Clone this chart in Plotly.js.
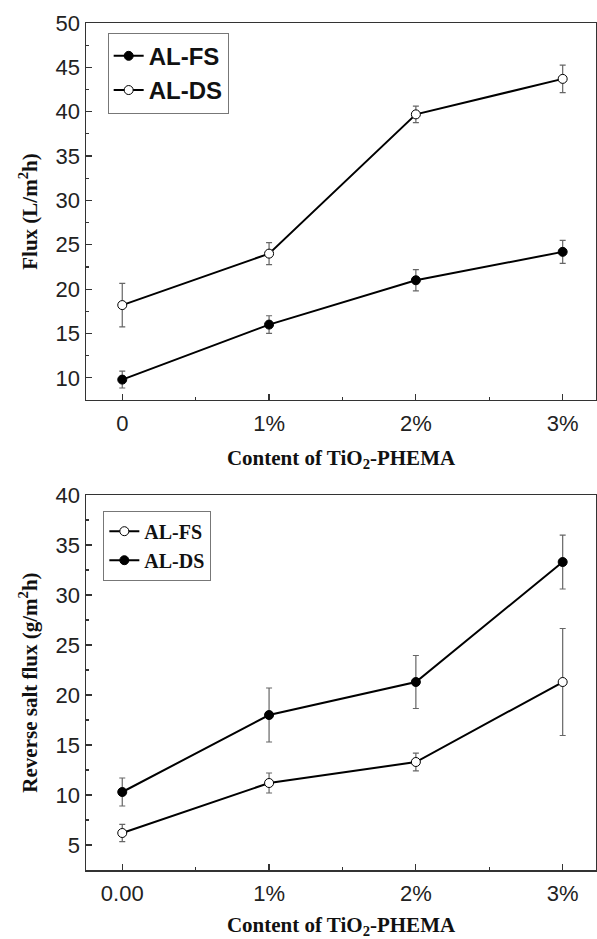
<!DOCTYPE html>
<html>
<head>
<meta charset="utf-8">
<script src="https://cdn.plot.ly/plotly-3.0.1.min.js"></script>
<style>html,body{margin:0;padding:0;background:#fff;}#chart{width:597px;height:939px;}</style>
</head>
<body>
<div id="chart"></div>
<script>
// Categories (TiO2-PHEMA content)
const categoriesTop = ['0', '1%', '2%', '3%'];
const categoriesBottom = ['0.00', '1%', '2%', '3%'];

// Top panel: water flux (L/m2h)
const fluxFS = [9.8, 16.0, 21.0, 24.2];
const fluxFSerr = [0.95, 1.0, 1.2, 1.3];
const fluxDS = [18.2, 24.0, 39.7, 43.7];
const fluxDSerr = [2.45, 1.25, 0.92, 1.55];

// Bottom panel: reverse salt flux (g/m2h)
const saltFS = [6.2, 11.2, 13.3, 21.3];
const saltFSerr = [0.87, 1.0, 0.88, 5.35];
const saltDS = [10.3, 18.0, 21.3, 33.3];
const saltDSerr = [1.4, 2.7, 2.65, 2.7];

const xTop = categoriesTop.map((c, i) => i);
const xBot = categoriesBottom.map((c, i) => i);

const serif = 'Liberation Serif, Times New Roman, serif';
const sans = 'Liberation Sans, Arial, sans-serif';

function trace(x, y, err, name, filled, xa, ya, leg) {
  return {
    x: x, y: y, name: name, type: 'scatter', mode: 'lines+markers',
    xaxis: xa, yaxis: ya, legend: leg,
    line: {color: '#000', width: 2},
    marker: {symbol: 'circle', size: 9, color: filled ? '#000' : '#fff',
             line: {color: '#000', width: 1}},
    error_y: {type: 'data', array: err, visible: true, color: '#666', thickness: 1.2, width: 3}
  };
}

const data = [
  trace(xTop, fluxFS, fluxFSerr, 'AL-FS', true, 'x', 'y', 'legend'),
  trace(xTop, fluxDS, fluxDSerr, 'AL-DS', false, 'x', 'y', 'legend'),
  trace(xBot, saltFS, saltFSerr, 'AL-FS', false, 'x2', 'y2', 'legend2'),
  trace(xBot, saltDS, saltDSerr, 'AL-DS', true, 'x2', 'y2', 'legend2')
];

const titleFont = {family: serif, size: 21, color: '#111', weight: 'bold'};

const axisCommon = {
  showgrid: false, zeroline: false, showline: true, linecolor: '#333', linewidth: 1.5,
  mirror: true, ticks: 'inside', ticklen: 6, tickwidth: 1.2, tickcolor: '#333',
  tickfont: {family: sans, size: 22, color: '#222'}
};

const layout = {
  width: 597, height: 939,
  margin: {l: 86, r: 1, t: 23, b: 69},
  paper_bgcolor: '#fff', plot_bgcolor: '#fff',
  showlegend: true,
  xaxis: Object.assign({}, axisCommon, {
    domain: [0, 1], anchor: 'y', range: [-0.247, 3.227],
    tickmode: 'array', tickvals: xTop, ticktext: categoriesTop, ticklabelstandoff: 3,
    minor: {dtick: 0.5, tick0: 0, ticks: 'inside', ticklen: 3, tickcolor: '#333'},
    title: {text: 'Content of TiO<sub>2</sub>-PHEMA', font: titleFont, standoff: 15}
  }),
  yaxis: Object.assign({}, axisCommon, {
    domain: [0.5549, 1], anchor: 'x', range: [7.5, 50],
    tick0: 10, dtick: 5,
    minor: {dtick: 2.5, tick0: 7.5, ticks: 'inside', ticklen: 3, tickcolor: '#333'},
    title: {text: 'Flux (L/m<sup>2</sup>h)', font: titleFont, standoff: 12}
  }),
  xaxis2: Object.assign({}, axisCommon, {
    domain: [0, 1], anchor: 'y2', range: [-0.247, 3.227],
    tickmode: 'array', tickvals: xBot, ticktext: categoriesBottom, ticklabelstandoff: 3,
    minor: {dtick: 0.5, tick0: 0, ticks: 'inside', ticklen: 3, tickcolor: '#333'},
    title: {text: 'Content of TiO<sub>2</sub>-PHEMA', font: titleFont, standoff: 15}
  }),
  yaxis2: Object.assign({}, axisCommon, {
    domain: [0, 0.4427], anchor: 'x2', range: [2.5, 40],
    tick0: 5, dtick: 5,
    minor: {dtick: 2.5, tick0: 2.5, ticks: 'inside', ticklen: 3, tickcolor: '#333'},
    title: {text: 'Reverse salt flux (g/m<sup>2</sup>h)', font: titleFont, standoff: 12}
  }),
  legend: {
    x: 0.0425, y: 0.9885, xanchor: 'left', yanchor: 'top',
    bgcolor: '#fff', bordercolor: '#777', borderwidth: 1,
    font: {family: sans, size: 24, color: '#111', weight: 'bold'},
    itemwidth: 30
  },
  legend2: {
    x: 0.034, y: 0.4242, xanchor: 'left', yanchor: 'top',
    bgcolor: '#fff', bordercolor: '#777', borderwidth: 1,
    font: {family: serif, size: 20, color: '#111', weight: 'bold'},
    itemwidth: 30
  }
};

Plotly.newPlot('chart', data, layout, {displayModeBar: false, staticPlot: true});
</script>
</body>
</html>
